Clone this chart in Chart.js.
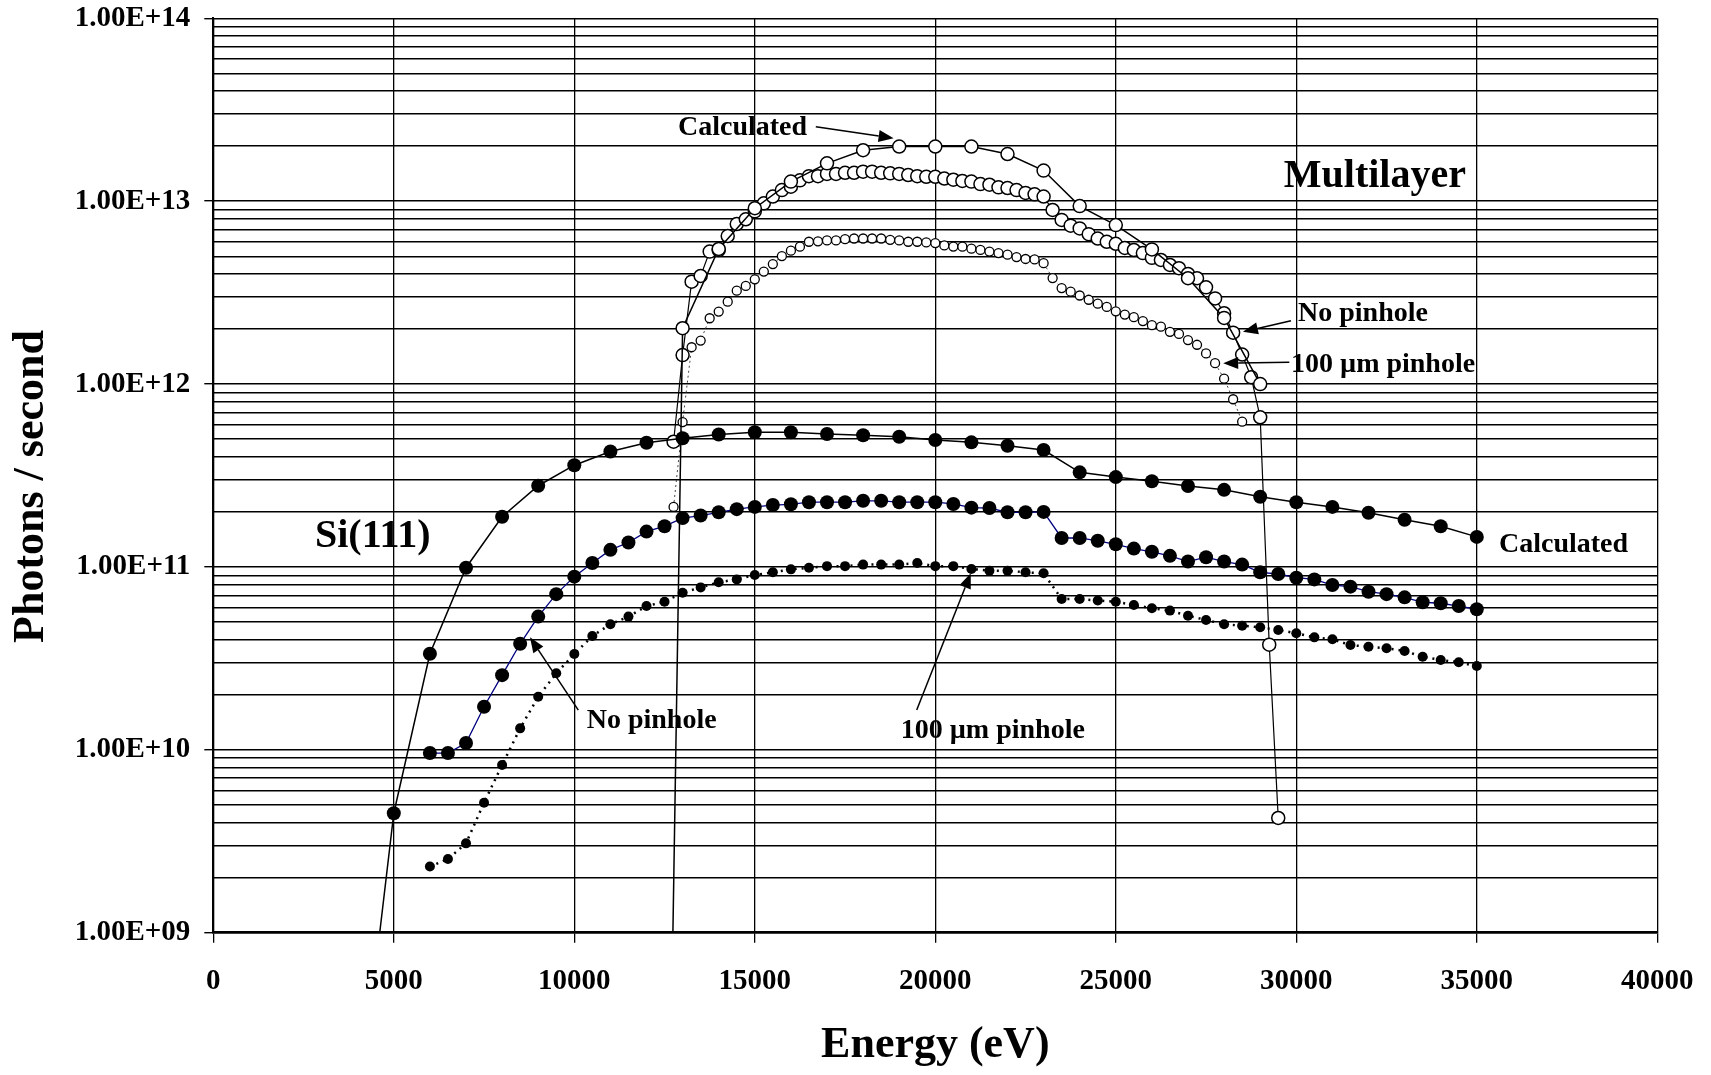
<!DOCTYPE html>
<html>
<head>
<meta charset="utf-8">
<script src="https://cdn.jsdelivr.net/npm/chart.js@4/dist/chart.umd.min.js"></script>
<style>
  html, body { margin: 0; padding: 0; background: #fff; }
  canvas { display: block; }
</style>
</head>
<body>
<canvas id="c" width="1711" height="1075" style="width:1711px;height:1075px"></canvas>
<script>
// ---------------- DATA ----------------
// Si(111) "Calculated"
const siCalcE = [4000, 5000, 6000, 7000, 8000, 9000, 10000, 11000, 12000, 13000, 14000, 15000, 16000, 17000, 18000,
  19000, 20000, 21000, 22000, 23000, 24000, 25000, 26000, 27000, 28000, 29000, 30000, 31000, 32000, 33000, 34000, 35000];
const siCalcV = [9.5e7, 4.5e9, 3.35e10, 9.9e10, 1.88e11, 2.78e11, 3.6e11, 4.28e11, 4.78e11, 5.05e11, 5.3e11, 5.45e11, 5.45e11,
  5.33e11, 5.25e11, 5.15e11, 4.94e11, 4.8e11, 4.6e11, 4.36e11, 3.29e11, 3.1e11, 2.94e11, 2.77e11, 2.64e11, 2.42e11,
  2.26e11, 2.13e11, 1.98e11, 1.81e11, 1.67e11, 1.46e11];

// Si(111) "No pinhole" and "100 um pinhole" (same energies)
const siMeasE = [6000, 6500, 7000, 7500, 8000, 8500, 9000, 9500, 10000, 10500, 11000, 11500, 12000, 12500, 13000, 13500,
  14000, 14500, 15000, 15500, 16000, 16500, 17000, 17500, 18000, 18500, 19000, 19500, 20000, 20500, 21000, 21500,
  22000, 22500, 23000, 23500, 24000, 24500, 25000, 25500, 26000, 26500, 27000, 27500, 28000, 28500, 29000, 29500,
  30000, 30500, 31000, 31500, 32000, 32500, 33000, 33500, 34000, 34500, 35000];
const siNoPinV = [9.6e9, 9.6e9, 1.09e10, 1.72e10, 2.56e10, 3.8e10, 5.35e10, 7.1e10, 8.85e10, 1.05e11, 1.24e11, 1.36e11,
  1.56e11, 1.67e11, 1.85e11, 1.91e11, 1.99e11, 2.07e11, 2.13e11, 2.18e11, 2.2e11, 2.26e11, 2.26e11, 2.26e11, 2.3e11,
  2.3e11, 2.26e11, 2.26e11, 2.26e11, 2.21e11, 2.11e11, 2.1e11, 1.99e11, 1.99e11, 2.0e11, 1.44e11, 1.44e11, 1.39e11,
  1.33e11, 1.26e11, 1.21e11, 1.15e11, 1.07e11, 1.13e11, 1.07e11, 1.03e11, 9.35e10, 9.15e10, 8.73e10, 8.55e10, 7.96e10,
  7.8e10, 7.32e10, 7.1e10, 6.82e10, 6.41e10, 6.33e10, 6.11e10, 5.87e10];
const siPin100V = [2.3e9, 2.53e9, 3.08e9, 5.14e9, 8.26e9, 1.31e10, 1.95e10, 2.62e10, 3.34e10, 4.19e10, 4.86e10, 5.35e10,
  6.11e10, 6.45e10, 7.23e10, 7.73e10, 8.24e10, 8.55e10, 9.04e10, 9.35e10, 9.7e10, 9.9e10, 1.01e11, 1.01e11, 1.03e11,
  1.03e11, 1.03e11, 1.05e11, 1.01e11, 1.01e11, 9.75e10, 9.53e10, 9.53e10, 9.35e10, 9.23e10, 6.68e10, 6.68e10, 6.55e10,
  6.45e10, 6.19e10, 5.94e10, 5.77e10, 5.41e10, 5.13e10, 4.86e10, 4.77e10, 4.68e10, 4.52e10, 4.34e10, 4.12e10, 4.02e10,
  3.74e10, 3.66e10, 3.59e10, 3.47e10, 3.23e10, 3.1e10, 3.01e10, 2.87e10];

// Multilayer "Calculated"
const mlCalcE = [12000, 13000, 14000, 15000, 16000, 17000, 18000, 19000, 20000, 21000, 22000, 23000, 24000, 25000,
  26000, 27000, 28000, 29000];
const mlCalcV = [1, 2.02e12, 5.48e12, 9.15e12, 1.28e13, 1.61e13, 1.9e13, 1.99e13, 1.99e13, 1.99e13, 1.81e13, 1.47e13,
  9.4e12, 7.4e12, 5.45e12, 3.79e12, 2.3e12, 1.0e12];

// Multilayer "No pinhole"
const mlNoPinE = [12750, 13000, 13250, 13500, 13750, 14000, 14250, 14500, 14750, 15000, 15250, 15500, 15750, 16000,
  16250, 16500, 16750, 17000, 17250, 17500, 17750, 18000, 18250, 18500, 18750, 19000, 19250, 19500, 19750, 20000,
  20250, 20500, 20750, 21000, 21250, 21500, 21750, 22000, 22250, 22500, 22750, 23000, 23250, 23500, 23750, 24000,
  24250, 24500, 24750, 25000, 25250, 25500, 25750, 26000, 26250, 26500, 26750, 27000, 27250, 27500, 27750, 28000,
  28250, 28500, 28750, 29000, 29250, 29500];
const mlNoPinV = [4.84e11, 1.44e12, 3.63e12, 3.9e12, 5.3e12, 5.4e12, 6.45e12, 7.5e12, 7.96e12, 8.8e12, 9.73e12, 1.06e13,
  1.15e13, 1.2e13, 1.3e13, 1.37e13, 1.37e13, 1.41e13, 1.41e13, 1.43e13, 1.43e13, 1.45e13, 1.45e13, 1.43e13, 1.42e13,
  1.41e13, 1.39e13, 1.37e13, 1.36e13, 1.36e13, 1.33e13, 1.31e13, 1.29e13, 1.28e13, 1.24e13, 1.23e13, 1.19e13, 1.18e13,
  1.15e13, 1.11e13, 1.09e13, 1.06e13, 8.95e12, 7.9e12, 7.35e12, 7.1e12, 6.6e12, 6.25e12, 6.0e12, 5.85e12, 5.55e12,
  5.41e12, 5.2e12, 4.9e12, 4.77e12, 4.48e12, 4.3e12, 4.0e12, 3.79e12, 3.38e12, 2.94e12, 2.44e12, 1.91e12, 1.45e12,
  1.09e12, 6.58e11, 3.76e10, 4.24e9];

// Multilayer "100 um pinhole"
const mlPin100E = [12750, 13000, 13250, 13500, 13750, 14000, 14250, 14500, 14750, 15000, 15250, 15500, 15750, 16000,
  16250, 16500, 16750, 17000, 17250, 17500, 17750, 18000, 18250, 18500, 18750, 19000, 19250, 19500, 19750, 20000,
  20250, 20500, 20750, 21000, 21250, 21500, 21750, 22000, 22250, 22500, 22750, 23000, 23250, 23500, 23750, 24000,
  24250, 24500, 24750, 25000, 25250, 25500, 25750, 26000, 26250, 26500, 26750, 27000, 27250, 27500, 27750, 28000,
  28250, 28500];
const mlPin100V = [2.13e11, 6.2e11, 1.59e12, 1.73e12, 2.29e12, 2.49e12, 2.82e12, 3.24e12, 3.44e12, 3.74e12, 4.12e12,
  4.53e12, 5.01e12, 5.36e12, 5.64e12, 6.0e12, 6.03e12, 6.1e12, 6.1e12, 6.2e12, 6.25e12, 6.25e12, 6.25e12, 6.25e12,
  6.15e12, 6.1e12, 6.0e12, 6.0e12, 5.95e12, 5.9e12, 5.73e12, 5.65e12, 5.64e12, 5.5e12, 5.41e12, 5.3e12, 5.2e12, 5.1e12,
  4.95e12, 4.83e12, 4.8e12, 4.58e12, 3.8e12, 3.35e12, 3.2e12, 3.05e12, 2.89e12, 2.75e12, 2.64e12, 2.5e12, 2.4e12,
  2.32e12, 2.21e12, 2.1e12, 2.06e12, 1.93e12, 1.88e12, 1.74e12, 1.64e12, 1.47e12, 1.3e12, 1.07e12, 8.26e11, 6.23e11];

// Axis ticks
const xTickValues = [0, 5000, 10000, 15000, 20000, 25000, 30000, 35000, 40000];
const yDecades = [1e9, 1e10, 1e11, 1e12, 1e13, 1e14];
const yTickLabels = ['1.00E+09', '1.00E+10', '1.00E+11', '1.00E+12', '1.00E+13', '1.00E+14'];
const yMinorFactors = [1, 2, 3, 4, 5, 6, 7, 8, 9];

// Texts
const xTitle = 'Energy (eV)';
const yTitle = 'Photons / second';

// ---------------- ANNOTATIONS (anchored in data coordinates) ----------------
const annotationTexts = [
  { text: 'Multilayer', at: [29654, 1.2e13], size: 40 },
  { text: 'Si(111)', at: [2817, 1.29e11], size: 40 },
  { text: 'Calculated', at: [12873, 2.3e13], size: 28 },
  { text: 'No pinhole', at: [30047, 2.22e12], size: 28 },
  { text: '100 \u00b5m pinhole', at: [29853, 1.17e12], size: 28 },
  { text: 'Calculated', at: [35615, 1.21e11], size: 28 },
  { text: 'No pinhole', at: [10343, 1.32e10], size: 28 },
  { text: '100 \u00b5m pinhole', at: [19042, 1.16e10], size: 28 }
];
const annotationArrows = [
  { from: [16690, 2.55e13], to: [18845, 2.21e13] },
  { from: [29853, 2.22e12], to: [28521, 1.93e12] },
  { from: [29806, 1.315e12], to: [27975, 1.3e12] },
  { from: [10111, 1.65e10], to: [8773, 4.12e10] },
  { from: [19485, 1.65e10], to: [20981, 9.23e10] }
];

// ---------------- CHART ----------------
const FONT = '"Liberation Serif", "Times New Roman", serif';
const pts = (E, V) => E.map((e, i) => ({ x: e, y: V[i] }));
const isDecade = v => yDecades.some(d => Math.abs(v - d) < d * 1e-6);

const yTicks = [];
yDecades.forEach((d, i) => {
  if (i === yDecades.length - 1) { yTicks.push(d); return; }
  yMinorFactors.forEach(f => yTicks.push(f * d));
});

const annotPlugin = {
  id: 'annot',
  afterDatasetsDraw(chart) {
    const { ctx } = chart;
    const xs = chart.scales.x, ys = chart.scales.y;
    ctx.save();
    ctx.fillStyle = '#000';
    ctx.strokeStyle = '#000';
    ctx.lineWidth = 1.5;
    annotationArrows.forEach(a => {
      const x1 = xs.getPixelForValue(a.from[0]), y1 = ys.getPixelForValue(a.from[1]);
      const x2 = xs.getPixelForValue(a.to[0]), y2 = ys.getPixelForValue(a.to[1]);
      const ang = Math.atan2(y2 - y1, x2 - x1);
      const L = 15, W = 6;
      const bx = x2 - L * Math.cos(ang), by = y2 - L * Math.sin(ang);
      ctx.beginPath();
      ctx.moveTo(x1, y1);
      ctx.lineTo(bx, by);
      ctx.stroke();
      ctx.beginPath();
      ctx.moveTo(x2, y2);
      ctx.lineTo(bx + W * Math.sin(ang), by - W * Math.cos(ang));
      ctx.lineTo(bx - W * Math.sin(ang), by + W * Math.cos(ang));
      ctx.closePath();
      ctx.fill();
    });
    ctx.textAlign = 'left';
    ctx.textBaseline = 'alphabetic';
    annotationTexts.forEach(t => {
      ctx.font = 'bold ' + t.size + 'px ' + FONT;
      ctx.fillText(t.text, xs.getPixelForValue(t.at[0]), ys.getPixelForValue(t.at[1]));
    });
    ctx.restore();
  }
};

const AREA = { left: 213.3, top: 18.3, right: 1657.3, bottom: 932.7 };

const chart = new Chart(document.getElementById('c'), {
  type: 'line',
  data: {
    datasets: [
      { label: 'Si(111) Calculated', data: pts(siCalcE, siCalcV), borderColor: '#000', borderWidth: 1.5,
        pointRadius: 7, pointBackgroundColor: '#000', pointBorderColor: '#000', pointBorderWidth: 0 },
      { label: 'Si(111) No pinhole', data: pts(siMeasE, siNoPinV), borderColor: '#000080', borderWidth: 1.3,
        pointRadius: 7, pointBackgroundColor: '#000', pointBorderColor: '#000', pointBorderWidth: 0 },
      { label: 'Si(111) 100 \u00b5m pinhole', data: pts(siMeasE, siPin100V), borderColor: '#000', borderWidth: 2.5,
        borderDash: [2, 5], pointRadius: 5, pointBackgroundColor: '#000', pointBorderColor: '#000', pointBorderWidth: 0 },
      { label: 'Multilayer Calculated', data: pts(mlCalcE, mlCalcV), borderColor: '#000', borderWidth: 1.5,
        pointRadius: 6.5, pointBackgroundColor: '#fff', pointBorderColor: '#000', pointBorderWidth: 1.5 },
      { label: 'Multilayer No pinhole', data: pts(mlNoPinE, mlNoPinV), borderColor: '#000', borderWidth: 1.2,
        pointRadius: 6.5, pointBackgroundColor: '#fff', pointBorderColor: '#000', pointBorderWidth: 1.5 },
      { label: 'Multilayer 100 \u00b5m pinhole', data: pts(mlPin100E, mlPin100V), borderColor: '#444', borderWidth: 1,
        borderDash: [2, 3], pointRadius: 4.5, pointBackgroundColor: '#fff', pointBorderColor: '#000', pointBorderWidth: 1.3 }
    ]
  },
  options: {
    responsive: false,
    devicePixelRatio: 1,
    animation: false,
    events: [],
    layout: { padding: { left: 0, right: 1711 - AREA.right, top: AREA.top, bottom: 0 } },
    elements: { line: { tension: 0, fill: false } },
    plugins: { legend: { display: false }, title: { display: false }, tooltip: { enabled: false } },
    scales: {
      x: {
        type: 'linear', min: 0, max: 40000,
        afterBuildTicks: s => { s.ticks = xTickValues.map(v => ({ value: v })); },
        afterFit: s => { s.height = 1075 - AREA.bottom; s.paddingLeft = 0; s.paddingRight = 0; },
        ticks: { autoSkip: false, maxRotation: 0, color: '#000', padding: 21,
          font: { family: FONT, size: 29, weight: 'bold' }, callback: v => String(v) },
        grid: { color: '#000', lineWidth: 1.3, tickLength: 10, tickColor: '#000', tickWidth: 1.3 },
        border: { display: true, color: '#000', width: 2.5 },
        title: { display: true, text: xTitle, color: '#000', padding: { top: 0, bottom: 3 },
          font: { family: FONT, size: 44, weight: 'bold' } }
      },
      y: {
        type: 'logarithmic', min: 1e9, max: 1e14,
        afterBuildTicks: s => { s.ticks = yTicks.map(v => ({ value: v, major: isDecade(v) })); },
        afterFit: s => { s.width = AREA.left; s.paddingTop = 0; s.paddingBottom = 0; },
        ticks: { autoSkip: false, color: '#000', padding: 14,
          font: { family: FONT, size: 29, weight: 'bold' },
          callback: v => { const i = yDecades.findIndex(d => Math.abs(v - d) < d * 1e-6); return i >= 0 ? yTickLabels[i] : ''; } },
        grid: { color: '#000', lineWidth: 1.4, tickLength: 9,
          tickColor: c => (c.tick && isDecade(c.tick.value)) ? '#000' : 'rgba(0,0,0,0)', tickWidth: 1.4 },
        border: { display: true, color: '#000', width: 2 },
        title: { display: true, text: yTitle + '\u2002', color: '#000', padding: { top: 5, bottom: 0 },
          font: { family: FONT, size: 44, weight: 'bold' } }
      }
    }
  },
  plugins: [annotPlugin]
});
</script>
</body>
</html>
